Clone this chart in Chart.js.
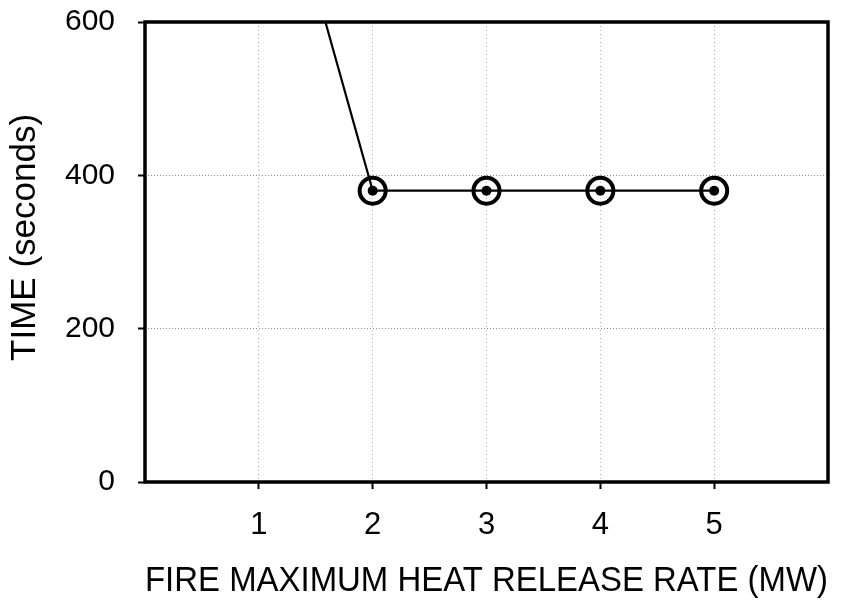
<!DOCTYPE html>
<html>
<head>
<meta charset="utf-8">
<script src="https://cdn.jsdelivr.net/npm/chart.js@4/dist/chart.umd.min.js"></script>
<style>
  html, body { margin: 0; padding: 0; background: #fff; }
  #wrap { width: 846px; height: 602px; }
</style>
</head>
<body>
<div id="wrap"><canvas id="myChart" width="846" height="602"></canvas></div>
<script>
// fire size (MW) vs. time (s)
const heatRelease = [1, 2, 3, 4, 5];
const timeSeconds = [910, 380, 380, 380, 380];
const yTicks = [0, 200, 400, 600];

const FONT = '"Liberation Sans", Arial, sans-serif';

// closed black frame round the plot area
const framePlugin = {
    id: 'frame',
    afterDraw(chart) {
        const { ctx, chartArea: a } = chart;
        ctx.save();
        ctx.strokeStyle = '#000';
        ctx.lineWidth = 3.5;
        ctx.strokeRect(a.left, a.top, a.right - a.left, a.bottom - a.top);
        ctx.restore();
    }
};

const points = heatRelease.map((x, i) => ({ x: x, y: timeSeconds[i] }));

new Chart(document.getElementById('myChart').getContext('2d'), {
    type: 'line',
    data: {
        datasets: [
            {
                data: points,
                borderColor: '#000',
                borderWidth: 2.2,
                pointStyle: 'circle',
                pointRadius: 13,
                pointBorderWidth: 4,
                pointBorderColor: '#000',
                pointBackgroundColor: 'rgba(0,0,0,0)',
                tension: 0,
            },
            {
                // centre dots inside the ring markers
                data: points,
                showLine: false,
                pointRadius: 5,
                pointBorderWidth: 0,
                pointBackgroundColor: '#000',
            },
        ],
    },
    options: {
        responsive: false,
        animation: false,
        events: [],
        layout: { padding: { top: 22, right: 17, left: 0, bottom: 0 } },
        plugins: {
            legend: { display: false },
            tooltip: { enabled: false },
        },
        scales: {
            x: {
                type: 'linear',
                min: 0,
                max: 6,
                afterFit: (s) => { s.height = 120; },
                border: { display: false, dash: [1, 3] },
                grid: {
                    drawTicks: true,
                    tickLength: 7,
                    tickWidth: 2,
                    lineWidth: 1,
                    color: (c) => (c.tick && heatRelease.includes(c.tick.value) ? '#b5b5b5' : 'rgba(0,0,0,0)'),
                    tickColor: (c) => (c.tick && heatRelease.includes(c.tick.value) ? '#000' : 'rgba(0,0,0,0)'),
                },
                ticks: {
                    stepSize: 1,
                    padding: 18,
                    color: '#000',
                    font: { family: FONT, size: 31 },
                    callback: (v) => (heatRelease.includes(v) ? String(v) : ''),
                },
                title: {
                    display: true,
                    text: 'FIRE MAXIMUM HEAT RELEASE RATE (MW)',
                    color: '#000',
                    font: { family: FONT, size: 34.5 },
                    padding: { top: 0, bottom: 0 },
                },
            },
            y: {
                min: 0,
                max: 600,
                afterFit: (s) => {
                    s.width = 145;
                    // the wide label gap should not push the plot down
                    s.paddingTop = 0;
                    s.paddingBottom = 0;
                },
                afterBuildTicks: (s) => { s.ticks = yTicks.map((v) => ({ value: v })); },
                border: { display: false, dash: [1, 2] },
                grid: {
                    drawTicks: true,
                    tickLength: 7,
                    tickWidth: 2,
                    lineWidth: 1,
                    color: '#8c8c8c',
                    tickColor: '#000',
                },
                ticks: {
                    padding: 23,
                    color: '#000',
                    font: { family: FONT, size: 30 },
                },
                title: {
                    display: true,
                    // leading spaces nudge the rotated title up a little
                    text: '   TIME (seconds)',
                    color: '#000',
                    font: { family: FONT, size: 35 },
                    padding: { top: 4, bottom: 0 },
                },
            },
        },
    },
    plugins: [framePlugin],
});
</script>
</body>
</html>
